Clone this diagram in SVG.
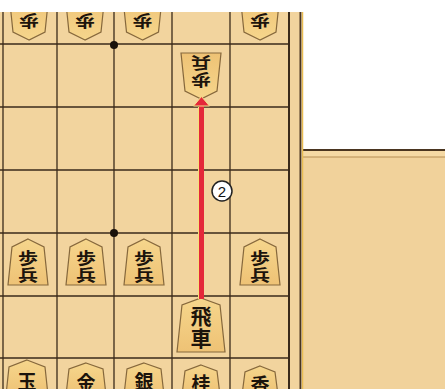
<svg xmlns="http://www.w3.org/2000/svg" width="445" height="389" viewBox="0 0 445 389">
<style>
.grid{stroke:#3a2a1a;stroke-width:1.3;fill:none}
.piece{fill:url(#pg);stroke:#86683c;stroke-width:1.2}
.pc{font-family:"Noto Sans CJK JP","Noto Sans CJK SC",sans-serif;font-weight:700;fill:#1c140c;text-anchor:middle;dominant-baseline:central}
.pawn{font-size:16px}
.big{font-size:21px}
.low{font-size:19px}
</style>
<defs>
<linearGradient id="pg" x1="0" y1="0" x2="0" y2="1">
<stop offset="0" stop-color="#f6d68c"/>
<stop offset="1" stop-color="#eec275"/>
</linearGradient>
<path id="pawnShape" d="M0,-23 L16,-15 L20,23 L-20,23 L-16,-15 Z"/>
<clipPath id="topclip"><rect x="0" y="12" width="300" height="60"/></clipPath>
<marker id="ah" markerUnits="userSpaceOnUse" markerWidth="11" markerHeight="17" refX="0.5" refY="8.5" orient="auto" viewBox="0 0 11 17">
<path d="M0.5,0.5 L10,8.5 L0.5,16.5 Z" fill="#e4283a" stroke="#f6e08a" stroke-width="1"/>
</marker>
</defs>

<!-- backgrounds -->
<rect x="0" y="0" width="445" height="389" fill="#ffffff"/>
<rect x="0" y="12" width="301" height="377" fill="#f2d49e"/>
<rect x="303" y="149" width="142" height="240" fill="#f1d29b"/>
<rect x="303" y="151" width="142" height="6" fill="#f5d9a4"/>
<line x1="303" y1="150" x2="445" y2="150" stroke="#4a3520" stroke-width="2"/>
<line x1="303" y1="157" x2="445" y2="157" stroke="#b58d55" stroke-width="1"/>

<!-- board edge -->
<line x1="300.5" y1="12" x2="300.5" y2="389" stroke="#4a3520" stroke-width="2"/>
<line x1="302.5" y1="12" x2="302.5" y2="389" stroke="#e9bd52" stroke-width="1.5"/>

<!-- grid -->
<g class="grid">
<line x1="3" y1="12" x2="3" y2="389"/>
<line x1="57" y1="12" x2="57" y2="389"/>
<line x1="114" y1="12" x2="114" y2="389"/>
<line x1="172" y1="12" x2="172" y2="389"/>
<line x1="230" y1="12" x2="230" y2="389"/>
<line x1="289" y1="12" x2="289" y2="389" stroke-width="2"/>
<line x1="0" y1="44" x2="289" y2="44"/>
<line x1="0" y1="107" x2="289" y2="107"/>
<line x1="0" y1="170" x2="289" y2="170"/>
<line x1="0" y1="233" x2="289" y2="233"/>
<line x1="0" y1="296" x2="289" y2="296"/>
<line x1="0" y1="358" x2="289" y2="358"/>
</g>
<circle cx="114" cy="45" r="4" fill="#1a120a"/>
<circle cx="114" cy="233" r="4" fill="#1a120a"/>

<!-- opponent pawns top row (only the lower part is in the picture) -->
<g clip-path="url(#topclip)">
<g id="op1" transform="translate(29,17) rotate(180)">
<use href="#pawnShape" class="piece"/>
<g transform="scale(1.25,1)"><text class="pc pawn" x="0" y="-5">歩</text></g>
</g>
<g id="op2" transform="translate(85,17) rotate(180)">
<use href="#pawnShape" class="piece"/>
<g transform="scale(1.25,1)"><text class="pc pawn" x="0" y="-5">歩</text></g>
</g>
<g id="op3" transform="translate(142.5,17) rotate(180)">
<use href="#pawnShape" class="piece"/>
<g transform="scale(1.25,1)"><text class="pc pawn" x="0" y="-5">歩</text></g>
</g>
<g id="op5" transform="translate(260,17) rotate(180)">
<use href="#pawnShape" class="piece"/>
<g transform="scale(1.25,1)"><text class="pc pawn" x="0" y="-5">歩</text></g>
</g>
</g>

<!-- opponent pawn middle -->
<g id="op4" transform="translate(201,76) rotate(180)">
<use href="#pawnShape" class="piece"/>
<g transform="scale(1.25,1)"><text class="pc pawn"><tspan x="0" y="-5">歩</tspan><tspan x="0" y="12">兵</tspan></text></g>
</g>

<!-- own pawns -->
<g id="p1" transform="translate(28,262)">
<use href="#pawnShape" class="piece"/>
<g transform="scale(1.25,1)"><text class="pc pawn"><tspan x="0" y="-5">歩</tspan><tspan x="0" y="12">兵</tspan></text></g>
</g>
<g id="p2" transform="translate(86,262)">
<use href="#pawnShape" class="piece"/>
<g transform="scale(1.25,1)"><text class="pc pawn"><tspan x="0" y="-5">歩</tspan><tspan x="0" y="12">兵</tspan></text></g>
</g>
<g id="p3" transform="translate(144,262)">
<use href="#pawnShape" class="piece"/>
<g transform="scale(1.25,1)"><text class="pc pawn"><tspan x="0" y="-5">歩</tspan><tspan x="0" y="12">兵</tspan></text></g>
</g>
<g id="p5" transform="translate(260,262)">
<use href="#pawnShape" class="piece"/>
<g transform="scale(1.25,1)"><text class="pc pawn"><tspan x="0" y="-5">歩</tspan><tspan x="0" y="12">兵</tspan></text></g>
</g>

<!-- rook -->
<g id="rook" transform="translate(201,325)">
<path class="piece" d="M0,-27 L19,-20 L24,27 L-24,27 L-19,-20 Z"/>
<text class="pc big"><tspan x="0" y="-10">飛</tspan><tspan x="0" y="12">車</tspan></text>
</g>

<!-- bottom row -->
<g id="king">
<path class="piece" d="M27,360 L45,367 L48,395 L6,395 L9,367 Z"/>
<text class="pc low" x="27" y="380" font-size="20">玉</text>
</g>
<g id="gold">
<path class="piece" d="M86,363 L103,369 L106,395 L66,395 L69,369 Z"/>
<text class="pc low" x="86" y="381">金</text>
</g>
<g id="silver">
<path class="piece" d="M144,363 L161,369 L164,395 L124,395 L127,369 Z"/>
<text class="pc low" x="144" y="380">銀</text>
</g>
<g id="knight">
<path class="piece" d="M201,365 L217,371 L220,395 L182,395 L185,371 Z"/>
<text class="pc low" x="201" y="382" font-size="18">桂</text>
</g>
<g id="lance">
<path class="piece" d="M260,366 L275,372 L278,395 L242,395 L245,372 Z"/>
<text class="pc low" x="260" y="383" font-size="18">香</text>
</g>

<!-- connector -->
<g id="connectors">
<line x1="199.5" y1="299" x2="199.5" y2="107" stroke="#f6e07a" stroke-width="3"/>
<line x1="201.5" y1="299" x2="201.5" y2="106" stroke="#e4283a" stroke-width="5" marker-end="url(#ah)"/>
<g id="label2">
<circle cx="222" cy="191" r="10" fill="#ffffff" stroke="#222222" stroke-width="1.5"/>
<text x="222" y="191.5" font-family="Liberation Sans, Arial, sans-serif" font-size="15" fill="#111111" text-anchor="middle" dominant-baseline="central">2</text>
</g>
</g>
</svg>
